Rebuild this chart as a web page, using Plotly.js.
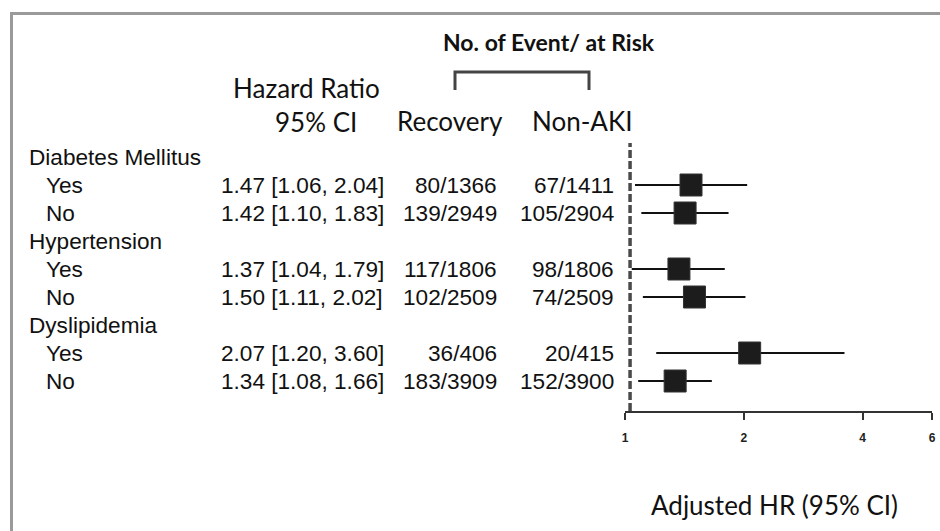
<!DOCTYPE html>
<html>
<head>
<meta charset="utf-8">
<script src="https://cdn.plot.ly/plotly-3.0.1.min.js"></script>
<style>
  html, body { margin: 0; padding: 0; background: #fff; }
  #chart { width: 940px; height: 531px; }
</style>
</head>
<body>
<div id="chart"></div>
<script>
// ---- data ----
const groups = ['Diabetes Mellitus', 'Hypertension', 'Dyslipidemia'];
const subgroups = ['Yes', 'No', 'Yes', 'No', 'Yes', 'No'];
const hr = [1.47, 1.42, 1.37, 1.50, 2.07, 1.34];
const ciLow = [1.06, 1.10, 1.04, 1.11, 1.20, 1.08];
const ciHigh = [2.04, 1.83, 1.79, 2.02, 3.60, 1.66];
const hrText = ['1.47 [1.06, 2.04]', '1.42 [1.10, 1.83]', '1.37 [1.04, 1.79]',
                '1.50 [1.11, 2.02]', '2.07 [1.20, 3.60]', '1.34 [1.08, 1.66]'];
const recovery = ['80/1366', '139/2949', '117/1806', '102/2509', '36/406', '183/3909'];
const nonAki = ['67/1411', '105/2904', '98/1806', '74/2509', '20/415', '152/3900'];
const tickVals = [1, 2, 4, 6];
const tickText = ['1', '2', '4', '6'];
const refLine = 1.03;

// ---- layout helpers (pixel -> paper) ----
const W = 940, H = 531;
const PL = 625, PR = 932, PT = 143, PB = 411;
const xp = px => (px - PL) / (PR - PL);
const yp = py => (PB - py) / (PB - PT);

// row positions: group heading then its two subgroups
const subRows = subgroups.map((_, i) => Math.floor(i / 2) * 3 + 1 + (i % 2));
const groupRows = groups.map((_, g) => g * 3);

const arial = 'Liberation Sans, Arial, sans-serif';
const calibri = 'Lato, Open Sans, sans-serif';
const txtColor = '#111';
const FS = 22.6;

const annotations = [];
groups.forEach((g, i) => {
  annotations.push({xref: 'paper', yref: 'y', x: xp(27), y: groupRows[i], text: g,
    showarrow: false, xanchor: 'left', yanchor: 'middle',
    font: {family: arial, size: FS, color: txtColor}});
});
subgroups.forEach((s, i) => {
  const r = subRows[i];
  annotations.push({xref: 'paper', yref: 'y', x: xp(44), y: r, text: s,
    showarrow: false, xanchor: 'left', yanchor: 'middle',
    font: {family: arial, size: FS, color: txtColor}});
  annotations.push({xref: 'paper', yref: 'y', x: xp(219), y: r, text: hrText[i],
    showarrow: false, xanchor: 'left', yanchor: 'middle',
    font: {family: arial, size: FS, color: txtColor}});
  annotations.push({xref: 'paper', yref: 'y', x: xp(499), y: r, text: recovery[i],
    showarrow: false, xanchor: 'right', yanchor: 'middle',
    font: {family: arial, size: FS, color: txtColor}});
  annotations.push({xref: 'paper', yref: 'y', x: xp(616), y: r, text: nonAki[i],
    showarrow: false, xanchor: 'right', yanchor: 'middle',
    font: {family: arial, size: FS, color: txtColor}});
});
const hdr = (text, cx, cy, size, bold) => annotations.push({
  xref: 'paper', yref: 'paper', x: xp(cx), y: yp(cy), text: bold ? '<b>' + text + '</b>' : text,
  showarrow: false, xanchor: 'center', yanchor: 'middle',
  font: {family: calibri, size: size, color: txtColor}});
hdr('No. of Event/ at Risk', 549, 42, 23, true);
hdr('Hazard Ratio', 306, 88, 26, false);
hdr('95% CI', 316, 122, 26, false);
hdr('Recovery', 450, 121, 26, false);
hdr('Non-AKI', 582, 121, 26, false);
hdr('Adjusted HR (95% CI)', 774, 505, 26, false);

const shapes = [
  // frame (top and left)
  {type: 'line', xref: 'paper', yref: 'paper', x0: xp(10), x1: xp(940), y0: yp(13.5), y1: yp(13.5),
   line: {color: '#9a9a9a', width: 3}},
  {type: 'line', xref: 'paper', yref: 'paper', x0: xp(11.5), x1: xp(11.5), y0: yp(12), y1: yp(531),
   line: {color: '#9a9a9a', width: 3}},
  // bracket
  {type: 'path', xref: 'paper', yref: 'paper',
   path: `M ${xp(455)},${yp(90)} L ${xp(455)},${yp(72)} L ${xp(589)},${yp(72)} L ${xp(589)},${yp(90)}`,
   line: {color: '#444', width: 3}},
  // reference dashed line
  {type: 'line', xref: 'x', yref: 'paper', x0: refLine, x1: refLine, y0: 0, y1: 1,
   line: {color: '#4a4a4a', width: 3.5, dash: '8px,3px'}}
];

const trace = {
  type: 'scatter', mode: 'markers',
  x: hr, y: subRows,
  marker: {symbol: 'square', size: 22, color: '#1c1c1c', line: {color: '#333', width: 1}},
  error_x: {type: 'data', symmetric: false,
    array: hr.map((v, i) => ciHigh[i] - v),
    arrayminus: hr.map((v, i) => v - ciLow[i]),
    width: 0, thickness: 1.8, color: '#111'},
  hoverinfo: 'skip', cliponaxis: false
};

const layout = {
  width: W, height: H,
  margin: {l: PL, r: W - PR, t: PT, b: H - PB, pad: 0},
  paper_bgcolor: '#fff', plot_bgcolor: '#fff',
  showlegend: false,
  xaxis: {type: 'log', range: [0, Math.log10(6)], tickvals: tickVals, ticktext: tickText,
    ticks: 'outside', ticklen: 7, tickwidth: 2, tickcolor: '#333',
    showline: true, linecolor: '#333', linewidth: 2, showgrid: false, zeroline: false,
    ticklabelstandoff: 8,
    tickfont: {family: arial, size: 12, color: '#222', weight: 'bold'}, fixedrange: true},
  yaxis: {range: [(PB - 157) / 28, (PT - 157) / 28], visible: false, showgrid: false,
    zeroline: false, fixedrange: true},
  annotations: annotations,
  shapes: shapes
};

Plotly.newPlot('chart', [trace], layout, {displayModeBar: false, staticPlot: true});
</script>
</body>
</html>
